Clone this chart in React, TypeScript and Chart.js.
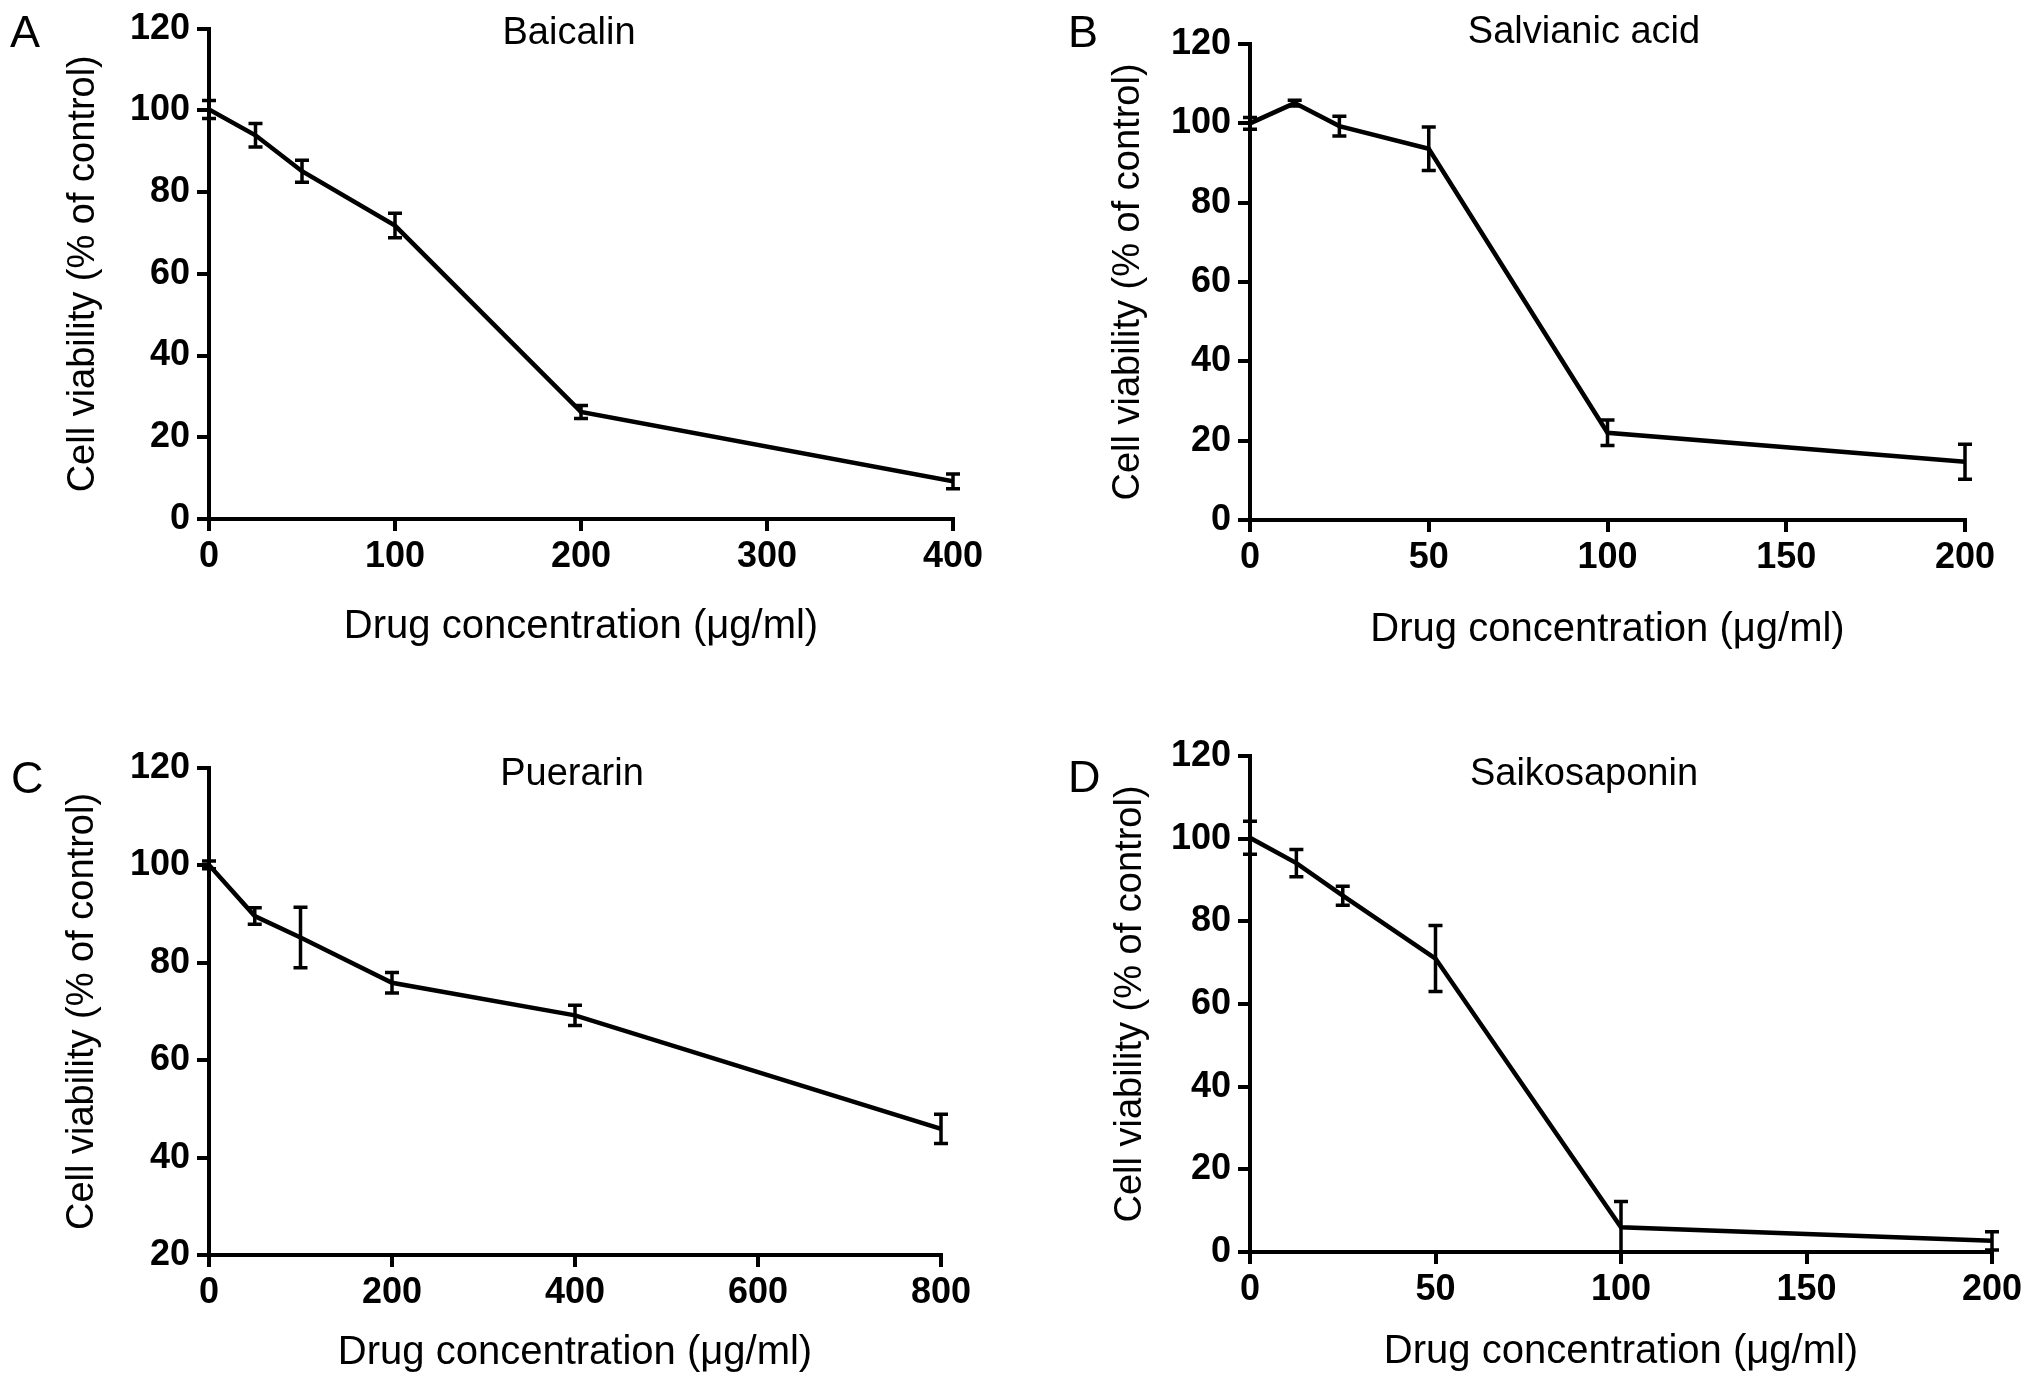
import React, { useEffect, useRef } from "react";
import { Chart, registerables } from "chart.js";

Chart.register(...registerables);

const FONT = "'Liberation Sans', Arial, Helvetica, sans-serif";

// ---------- Data ----------
const yTitle = "Cell viability (% of control)";
const xTitle = "Drug concentration (\u03bcg/ml)";

// A - Baicalin
const baicalinConc = [0, 25, 50, 100, 200, 400];
const baicalinViability = [100.2, 93.9, 85.1, 71.8, 26.2, 9.2];
const baicalinError = [2.2, 2.9, 2.7, 3.0, 1.6, 1.8];
const baicalinXTicks = [0, 100, 200, 300, 400];

// B - Salvianic acid
const salvianicConc = [0, 12.5, 25, 50, 100, 200];
const salvianicViability = [100, 105.1, 99.3, 93.6, 22.0, 14.7];
const salvianicError = [1.5, 0.7, 2.5, 5.5, 3.2, 4.4];
const salvianicXTicks = [0, 50, 100, 150, 200];

// C - Puerarin
const puerarinConc = [0, 50, 100, 200, 400, 800];
const puerarinViability = [100.1, 89.6, 85.2, 75.9, 69.2, 45.9];
const puerarinError = [0.8, 1.7, 6.2, 2.1, 2.1, 3.0];
const puerarinXTicks = [0, 200, 400, 600, 800];

// D - Saikosaponin
const saikosaponinConc = [0, 12.5, 25, 50, 100, 200];
const saikosaponinViability = [100.2, 94.1, 86.2, 71.0, 6.0, 2.7];
const saikosaponinError = [4.0, 3.3, 2.3, 8.0, 6.2, 2.2];
const saikosaponinXTicks = [0, 50, 100, 150, 200];

const yTicksFrom0 = [0, 20, 40, 60, 80, 100, 120];
const yTicksFrom20 = [20, 40, 60, 80, 100, 120];

// ---------- Layout (kept apart from data) ----------
type PanelDef = {
  letter: string;
  title: string;
  conc: number[];
  viability: number[];
  error: number[];
  xTicks: number[];
  yTicks: number[];
  left: number; top: number; w: number; h: number;
  chartLeft: number; chartRight: number; chartTop: number; chartBottom: number;
  yTitleX: number; xTitleY: number;
  titleX: number; titleCapTop: number;
  letterX: number; letterCapTop: number;
};

const panels: PanelDef[] = [
  {
    letter: "A", title: "Baicalin",
    conc: baicalinConc, viability: baicalinViability, error: baicalinError,
    xTicks: baicalinXTicks, yTicks: yTicksFrom0,
    left: 0, top: 0, w: 1015, h: 693,
    chartLeft: 209, chartRight: 953, chartTop: 26, chartBottom: 519,
    yTitleX: 84, xTitleY: 627,
    titleX: 569, titleCapTop: 17,
    letterX: 13, letterCapTop: 15,
  },
  {
    letter: "B", title: "Salvianic acid",
    conc: salvianicConc, viability: salvianicViability, error: salvianicError,
    xTicks: salvianicXTicks, yTicks: yTicksFrom0,
    left: 1015, top: 0, w: 1016, h: 693,
    chartLeft: 235, chartRight: 950, chartTop: 44, chartBottom: 520,
    yTitleX: 114, xTitleY: 630,
    titleX: 1584, titleCapTop: 16,
    letterX: 1071, letterCapTop: 15,
  },
  {
    letter: "C", title: "Puerarin",
    conc: puerarinConc, viability: puerarinViability, error: puerarinError,
    xTicks: puerarinXTicks, yTicks: yTicksFrom20,
    left: 0, top: 693, w: 1015, h: 694,
    chartLeft: 209, chartRight: 941, chartTop: 75, chartBottom: 562,
    yTitleX: 83, xTitleY: 660,
    titleX: 572, titleCapTop: 758,
    letterX: 14, letterCapTop: 761,
  },
  {
    letter: "D", title: "Saikosaponin",
    conc: saikosaponinConc, viability: saikosaponinViability, error: saikosaponinError,
    xTicks: saikosaponinXTicks, yTicks: yTicksFrom0,
    left: 1015, top: 693, w: 1016, h: 694,
    chartLeft: 235, chartRight: 977, chartTop: 63, chartBottom: 559,
    yTitleX: 116, xTitleY: 659,
    titleX: 1584, titleCapTop: 758,
    letterX: 1071, letterCapTop: 760,
  },
];

const TITLE_SIZE = 38;
const X_TITLE_SIZE = 40;
const TICK_SIZE = 36;
const LETTER_SIZE = 45;
const HALF_TITLE_LINE = (TITLE_SIZE * 1.2) / 2;
const HALF_X_TITLE_LINE = (X_TITLE_SIZE * 1.2) / 2;
const CAP = 7;

const errorBarPlugin = {
  id: "errorBars",
  afterDatasetsDraw(chart: any) {
    const { ctx, chartArea, scales } = chart;
    const xs = scales.x;
    const ys = scales.y;
    ctx.save();
    ctx.beginPath();
    ctx.rect(0, chartArea.top - 60, chart.width, chartArea.bottom - chartArea.top + 60);
    ctx.clip();
    ctx.strokeStyle = "#000";
    ctx.lineWidth = 3.5;
    chart.data.datasets.forEach((ds: any) => {
      const errs: number[] = ds.errors || [];
      ds.data.forEach((pt: any, i: number) => {
        const e = errs[i] || 0;
        const px = xs.getPixelForValue(pt.x);
        const hi = ys.getPixelForValue(pt.y + e);
        const lo = ys.getPixelForValue(pt.y - e);
        ctx.beginPath();
        ctx.moveTo(px, hi);
        ctx.lineTo(px, lo);
        ctx.moveTo(px - CAP, hi);
        ctx.lineTo(px + CAP, hi);
        ctx.moveTo(px - CAP, lo);
        ctx.lineTo(px + CAP, lo);
        ctx.stroke();
      });
    });
    ctx.restore();
  },
};

function Panel({ p }: { p: PanelDef }) {
  const ref = useRef<HTMLCanvasElement>(null);
  useEffect(() => {
    const axisCommon = {
      grid: {
        display: true,
        drawOnChartArea: false,
        drawTicks: true,
        tickLength: 12,
        tickWidth: 4,
        tickColor: "#000",
        color: "#000",
        lineWidth: 4,
      },
      border: { display: true, color: "#000", width: 4 },
    };
    const chart = new Chart(ref.current as HTMLCanvasElement, {
      type: "line",
      data: {
        datasets: [
          {
            data: p.conc.map((x, i) => ({ x, y: p.viability[i] })),
            errors: p.error,
            borderColor: "#000",
            borderWidth: 4.5,
            pointRadius: 0,
            pointHoverRadius: 0,
            tension: 0,
            fill: false,
          } as any,
        ],
      },
      options: {
        animation: false,
        responsive: false,
        events: [],
        layout: {
          padding: { left: 0, top: p.chartTop, right: p.w - p.chartRight, bottom: 0 },
        },
        plugins: {
          legend: { display: false },
          tooltip: { enabled: false },
          title: { display: false },
        },
        scales: {
          x: {
            type: "linear",
            min: p.xTicks[0],
            max: p.xTicks[p.xTicks.length - 1],
            afterBuildTicks: (s: any) => {
              s.ticks = p.xTicks.map((v) => ({ value: v }));
            },
            afterFit: (s: any) => {
              s.height = p.h - p.chartBottom;
            },
            ticks: {
              font: { family: FONT, size: TICK_SIZE, weight: "bold" },
              color: "#000",
              padding: 4,
              maxRotation: 0,
              autoSkip: false,
            },
            title: {
              display: true,
              text: xTitle,
              color: "#000",
              font: { family: FONT, size: X_TITLE_SIZE, weight: "normal" },
              padding: { top: 0, bottom: p.h - p.xTitleY - HALF_X_TITLE_LINE },
            },
            ...axisCommon,
          },
          y: {
            type: "linear",
            min: p.yTicks[0],
            max: p.yTicks[p.yTicks.length - 1],
            afterBuildTicks: (s: any) => {
              s.ticks = p.yTicks.map((v) => ({ value: v }));
            },
            afterFit: (s: any) => {
              s.width = p.chartLeft;
            },
            ticks: {
              font: { family: FONT, size: TICK_SIZE, weight: "bold" },
              color: "#000",
              padding: 7,
              autoSkip: false,
            },
            title: {
              display: true,
              text: yTitle,
              color: "#000",
              font: { family: FONT, size: TITLE_SIZE, weight: "normal" },
              padding: { top: p.yTitleX - HALF_TITLE_LINE, bottom: 0 },
            },
            ...axisCommon,
          },
        },
      } as any,
      plugins: [errorBarPlugin],
    });
    return () => chart.destroy();
  }, [p]);

  return (
    <canvas
      ref={ref}
      width={p.w}
      height={p.h}
      style={{ position: "absolute", left: p.left, top: p.top, width: p.w, height: p.h }}
    />
  );
}

export default function App() {
  return (
    <div
      style={{
        position: "absolute",
        left: 0,
        top: 0,
        width: 2031,
        height: 1387,
        background: "#fff",
        overflow: "hidden",
        fontFamily: FONT,
        color: "#000",
      }}
    >
      {panels.map((p) => (
        <Panel key={p.letter} p={p} />
      ))}
      {panels.map((p) => (
        <div
          key={"t" + p.letter}
          style={{
            position: "absolute",
            left: p.titleX,
            top: p.titleCapTop - 0.1305 * TITLE_SIZE,
            transform: "translateX(-50%)",
            fontSize: TITLE_SIZE,
            lineHeight: 1,
            whiteSpace: "nowrap",
          }}
        >
          {p.title}
        </div>
      ))}
      {panels.map((p) => (
        <div
          key={"l" + p.letter}
          style={{
            position: "absolute",
            left: p.letterX - 3,
            top: p.letterCapTop - 0.1305 * LETTER_SIZE,
            fontSize: LETTER_SIZE,
            lineHeight: 1,
          }}
        >
          {p.letter}
        </div>
      ))}
    </div>
  );
}
